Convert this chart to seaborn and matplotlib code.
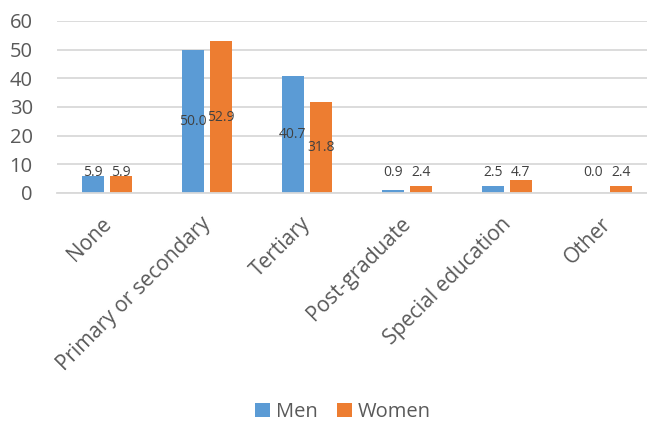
import matplotlib
matplotlib.use("Agg")
import matplotlib.pyplot as plt
import matplotlib.transforms as mtransforms
import pandas as pd
import seaborn as sns

# Share of respondents by highest education level, by sex (%)
categories = ["None", "Primary or secondary", "Tertiary", "Post-graduate",
              "Special education", "Other"]
men = [5.9, 50.0, 40.7, 0.9, 2.5, 0.0]
women = [5.9, 52.9, 31.8, 2.4, 4.7, 2.4]
series = ["Men", "Women"]
y_ticks = [0, 10, 20, 30, 40, 50, 60]

df = pd.DataFrame({
    "Education": categories * 2,
    "Sex": [series[0]] * len(categories) + [series[1]] * len(categories),
    "Percent": men + women,
})

sns.set_theme(style="white")
plt.rcParams["font.family"] = ["Open Sans", "DejaVu Sans"]

text_grey = "#595959"
label_grey = "#404040"
grid_grey = "#D9D9D9"
palette = {"Men": "#5B9BD5", "Women": "#ED7D31"}

fig = plt.figure(figsize=(6.47, 4.25), dpi=100)
ax = fig.add_axes([57 / 647, 232 / 425, 600 / 647, 172 / 425])

sns.barplot(data=df, x="Education", y="Percent", hue="Sex", order=categories,
            hue_order=series, palette=palette, width=0.56, gap=0.21,
            saturation=1, linewidth=0, errorbar=None, ax=ax)

ax.set_xlim(-0.5, len(categories) - 0.5)
ax.set_ylim(0, 60)
ax.set_yticks(y_ticks)
ax.set_xlabel("")
ax.set_ylabel("")

ax.yaxis.grid(True, color=grid_grey, linewidth=1.3)
ax.set_axisbelow(True)
for side in ["top", "right", "left"]:
    ax.spines[side].set_visible(False)
ax.spines["bottom"].set_color(grid_grey)
ax.spines["bottom"].set_linewidth(1.3)

ax.tick_params(axis="y", length=0, pad=17.5, labelsize=14.5, labelcolor=text_grey)
ax.tick_params(axis="x", length=0, pad=20, labelsize=15, labelcolor=text_grey)
shift = mtransforms.ScaledTranslation(1 / 100, 0, fig.dpi_scale_trans)
for lbl in ax.get_xticklabels():
    lbl.set_rotation(45)
    lbl.set_ha("right")
    lbl.set_va("center")
    lbl.set_rotation_mode("anchor")
    lbl.set_transform(lbl.get_transform() + shift)

# Value labels: centred in tall bars, lifted just above short ones
for container, values in zip(ax.containers, [men, women]):
    for bar, v in zip(container, values):
        x = bar.get_x() + bar.get_width() / 2
        y = v / 2 if v >= 15 else 7.3
        ax.text(x, y, f"{v:.1f}", ha="center", va="center",
                fontsize=10, color=label_grey)

handles, labels = ax.get_legend_handles_labels()
ax.get_legend().remove()
fig.legend(handles, labels, loc="center", bbox_to_anchor=(343 / 647, 1 - 412 / 425),
           ncol=2, frameon=False, fontsize=14.5, labelcolor=text_grey,
           handlelength=0.72, handleheight=0.72, handletextpad=0.3,
           columnspacing=1.0, borderpad=0.2)

fig.savefig("out.png", dpi=100)
